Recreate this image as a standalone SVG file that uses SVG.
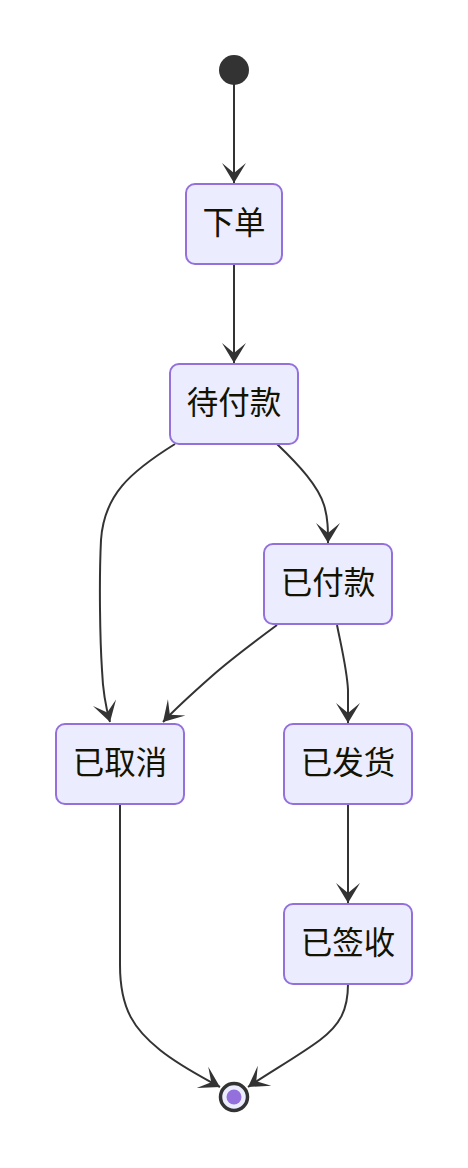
<svg xmlns="http://www.w3.org/2000/svg" width="468" height="1168" viewBox="0 0 468 1168">
<style>
.node rect{fill:#ECECFF;stroke:#9370DB;stroke-width:2}
.node text{font-family:"Liberation Sans","Noto Sans CJK SC",sans-serif;font-size:31.5px;fill:#131300;text-anchor:middle;dominant-baseline:central}
.edge{fill:none;stroke:#333;stroke-width:2;marker-end:url(#barb)}
</style>
<defs>
<marker id="barb" viewBox="0 0 20 14" markerUnits="userSpaceOnUse" markerWidth="40" markerHeight="28" refX="19" refY="7" orient="auto">
<path d="M19,7 L9,13 L14,7 L9,1 Z" fill="#333"/>
</marker>
</defs>
<rect width="468" height="1168" fill="#fff"/>
<g id="connectors">
<path class="edge" d="M234,84 L234,183"/>
<path class="edge" d="M234,264 L234,363"/>
<path class="edge" d="M175,444 C130,472 104,495 101,540 C99,580 100,640 102,670 C103,695 106,708 110,722"/>
<path class="edge" d="M277,444 C300,466 318,486 324,505 C328,518 328,530 328,543"/>
<path class="edge" d="M277,625 C250,645 230,660 212,676 C195,691 178,706 163,722"/>
<path class="edge" d="M337,625 C342,650 347,670 348,690 L348,723"/>
<path class="edge" d="M348,804 L348,903"/>
<path class="edge" d="M120,804 L120,965 C120,1010 135,1030 160,1050 C180,1066 200,1076 220,1087"/>
<path class="edge" d="M348,984 C348,1010 340,1025 320,1040 C300,1055 270,1072 248,1087"/>
</g>
<g id="start"><circle cx="234" cy="70" r="15" fill="#333"/></g>
<g id="n-xiadan" class="node"><rect x="186" y="184" width="96" height="80" rx="9"/><text x="234" y="223">下单</text></g>
<g id="n-daifukuan" class="node"><rect x="170" y="364" width="128" height="80" rx="9"/><text x="234" y="403">待付款</text></g>
<g id="n-yifukuan" class="node"><rect x="264" y="544" width="128" height="80" rx="9"/><text x="328" y="583">已付款</text></g>
<g id="n-yiquxiao" class="node"><rect x="56" y="724" width="128" height="80" rx="9"/><text x="120" y="763">已取消</text></g>
<g id="n-yifahuo" class="node"><rect x="284" y="724" width="128" height="80" rx="9"/><text x="348" y="763">已发货</text></g>
<g id="n-yiqianshou" class="node"><rect x="284" y="904" width="128" height="80" rx="9"/><text x="348" y="943">已签收</text></g>
<g id="end"><circle cx="234" cy="1097" r="13.5" fill="#ECECFF" stroke="#333" stroke-width="3.5"/><circle cx="234" cy="1097" r="7.5" fill="#9370DB"/></g>
</svg>
